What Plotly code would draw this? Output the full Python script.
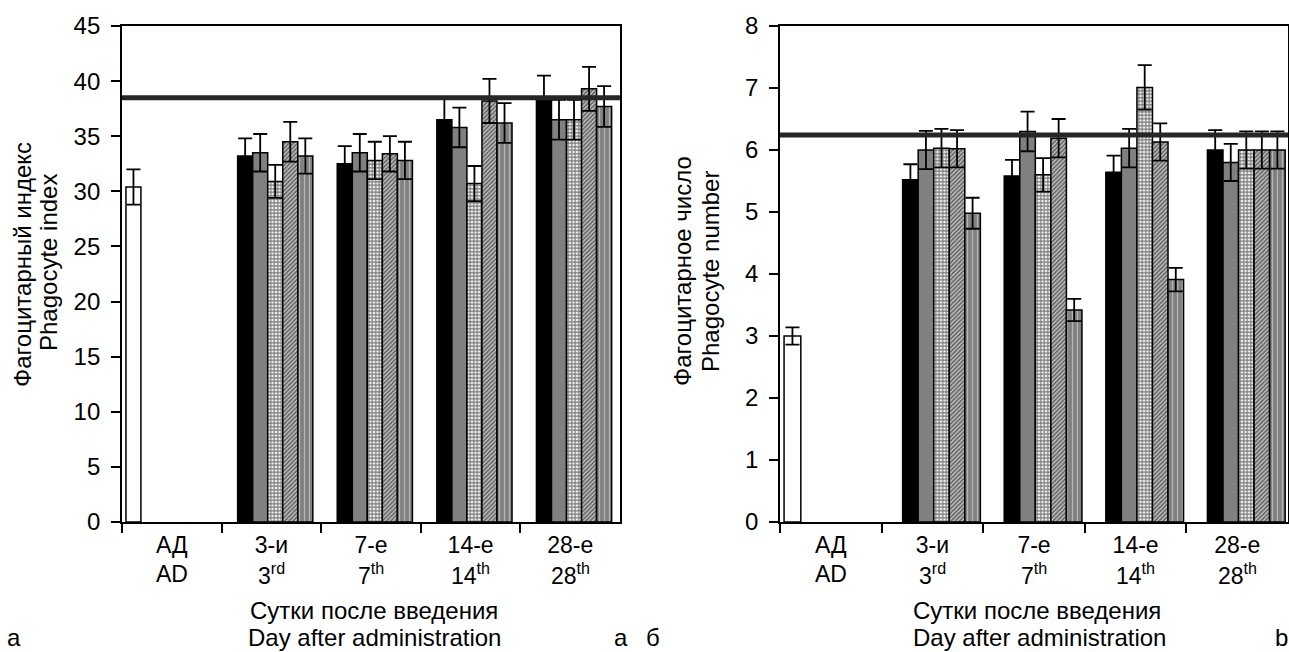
import plotly.graph_objects as go

# ---------------- data ----------------
categories_ru = ["АД", "3-и", "7-е", "14-е", "28-е"]
categories_en = ["AD", "3<sup>rd</sup>", "7<sup>th</sup>", "14<sup>th</sup>", "28<sup>th</sup>"]
days = categories_ru[1:]

# Panel a: phagocyte index
index_ad = [30.4]
index_ad_err = [1.6]
index_s1 = [33.2, 32.5, 36.5, 38.5]
index_s1_err = [1.6, 1.6, 1.9, 2.0]
index_s2 = [33.5, 33.5, 35.8, 36.5]
index_s2_err = [1.7, 1.7, 1.8, 1.8]
index_s3 = [30.9, 32.8, 30.7, 36.5]
index_s3_err = [1.5, 1.7, 1.6, 1.8]
index_s4 = [34.5, 33.4, 38.2, 39.3]
index_s4_err = [1.8, 1.6, 2.0, 2.0]
index_s5 = [33.2, 32.8, 36.2, 37.7]
index_s5_err = [1.6, 1.7, 1.8, 1.85]
index_norm = 38.5

# Panel b: phagocyte number
number_ad = [3.0]
number_ad_err = [0.14]
number_s1 = [5.52, 5.58, 5.64, 6.0]
number_s1_err = [0.25, 0.26, 0.27, 0.32]
number_s2 = [6.0, 6.3, 6.03, 5.8]
number_s2_err = [0.31, 0.32, 0.31, 0.3]
number_s3 = [6.03, 5.6, 7.01, 6.0]
number_s3_err = [0.31, 0.27, 0.36, 0.3]
number_s4 = [6.02, 6.19, 6.13, 6.0]
number_s4_err = [0.3, 0.31, 0.3, 0.3]
number_s5 = [4.98, 3.42, 3.91, 6.0]
number_s5_err = [0.25, 0.18, 0.19, 0.3]
number_norm = 6.24

# ---------------- styles ----------------
FONT = "Liberation Sans, Arial, sans-serif"
FS = 24
FS_TICK = 23
W, H = 1289, 652

styles = [
    dict(color="#000000"),
    dict(color="#808080"),
    dict(color="#ffffff", pattern=dict(shape="+", fgcolor="#000000", bgcolor="#f4f4f4",
                                       size=3.5, solidity=0.55)),
    dict(color="#b4b4b4", pattern=dict(shape="/", fgcolor="#000000", bgcolor="#c0c0c0",
                                       size=3, solidity=0.5)),
    dict(color="#808080", pattern=dict(shape="|", fgcolor="#e8e8e8", bgcolor="#808080",
                                       size=5, solidity=0.25)),
]


def px_x(p):
    return p / W


def px_y(p):
    return 1 - p / H


fig = go.Figure()


def add_panel(xa, ya, ad, ad_err, series, errs, width, first_off, ad_width):
    err_style = dict(type="data", symmetric=True, color="#000000", thickness=1.8, width=7)
    fig.add_trace(go.Bar(
        x=categories_ru[:1], y=ad, xaxis=xa, yaxis=ya, width=ad_width, offset=-0.46,
        marker=dict(color="#ffffff", line=dict(color="#000000", width=1.5)),
        error_y=dict(array=ad_err, **err_style), showlegend=False))
    for k, (vals, e) in enumerate(zip(series, errs)):
        st = styles[k]
        marker = dict(line=dict(color="#000000", width=1.5), **st)
        fig.add_trace(go.Bar(
            x=days, y=vals, xaxis=xa, yaxis=ya, width=width,
            offset=first_off + k * width, marker=marker,
            error_y=dict(array=e, **err_style), showlegend=False))


add_panel("x", "y", index_ad, index_ad_err,
          [index_s1, index_s2, index_s3, index_s4, index_s5],
          [index_s1_err, index_s2_err, index_s3_err, index_s4_err, index_s5_err],
          0.151, -0.339, 0.15)
add_panel("x2", "y2", number_ad, number_ad_err,
          [number_s1, number_s2, number_s3, number_s4, number_s5],
          [number_s1_err, number_s2_err, number_s3_err, number_s4_err, number_s5_err],
          0.153, -0.293, 0.165)

xcommon = dict(type="category", categoryorder="array", categoryarray=categories_ru,
               range=[-0.5, 4.5], showline=True, linecolor="#000000", linewidth=1.8,
               mirror=True, ticks="outside", tickson="boundaries", ticklen=9,
               tickwidth=1.5, tickcolor="#000000", showgrid=False, zeroline=False,
               automargin=False, ticklabelstandoff=1,
               tickfont=dict(family=FONT, size=FS_TICK, color="#000000"), fixedrange=True)
ycommon = dict(showline=True, linecolor="#000000", linewidth=1.8, mirror=True,
               ticks="outside", ticklen=9, tickwidth=1.5, tickcolor="#000000",
               showgrid=False, zeroline=False, automargin=False, ticklabelstandoff=6,
               tickfont=dict(family=FONT, size=FS, color="#000000"), fixedrange=True)

ydom = [px_y(522), px_y(26)]
fig.update_layout(
    width=W, height=H, margin=dict(l=0, r=0, t=0, b=0, autoexpand=False),
    paper_bgcolor="#ffffff", plot_bgcolor="#ffffff",
    barmode="overlay", showlegend=False,
    font=dict(family=FONT, size=FS, color="#000000"),
    xaxis=dict(domain=[px_x(122), px_x(620)], anchor="y", **xcommon),
    yaxis=dict(domain=ydom, anchor="x", range=[0, 45], dtick=5, **ycommon),
    xaxis2=dict(domain=[px_x(780), px_x(1288)], anchor="y2", **xcommon),
    yaxis2=dict(domain=ydom, anchor="x2", range=[0, 8], dtick=1, **ycommon),
)

# norm reference lines
fig.add_shape(type="line", xref="x domain", yref="y", x0=0, x1=1, y0=index_norm,
              y1=index_norm, line=dict(color="#262626", width=5), layer="above")
fig.add_shape(type="line", xref="x2 domain", yref="y2", x0=0, x1=1, y0=number_norm,
              y1=number_norm, line=dict(color="#262626", width=5), layer="above")

# second line of the category labels
for xa in ("x", "x2"):
    for ru, en in zip(categories_ru, categories_en):
        fig.add_annotation(text=en, xref=xa, yref="paper", x=ru, y=px_y(574),
                           xanchor="center", yanchor="middle", showarrow=False,
                           font=dict(family=FONT, size=FS_TICK, color="#000000"))

texts = [
    ("Фагоцитарный индекс", 22, 265, -90),
    ("Phagocyte index", 48, 263, -90),
    ("Фагоцитарное число", 683, 271, -90),
    ("Phagocyte number", 710, 272, -90),
    ("Сутки после введения", 374, 610, 0),
    ("Day after administration", 374, 637, 0),
    ("Сутки после введения", 1037, 610, 0),
    ("Day after administration", 1039, 637, 0),
    ("а", 14, 637, 0),
    ("а", 621, 637, 0),
    ("б", 653, 637, 0),
    ("b", 1281, 637, 0),
]
for t, x, y, ang in texts:
    fig.add_annotation(text=t, xref="paper", yref="paper", x=px_x(x), y=px_y(y),
                       xanchor="center", yanchor="middle", showarrow=False,
                       textangle=ang, font=dict(family=FONT, size=FS, color="#000000"))

fig.write_html("out.html", config={"displayModeBar": False},
               post_script="document.body.style.margin='0';")
